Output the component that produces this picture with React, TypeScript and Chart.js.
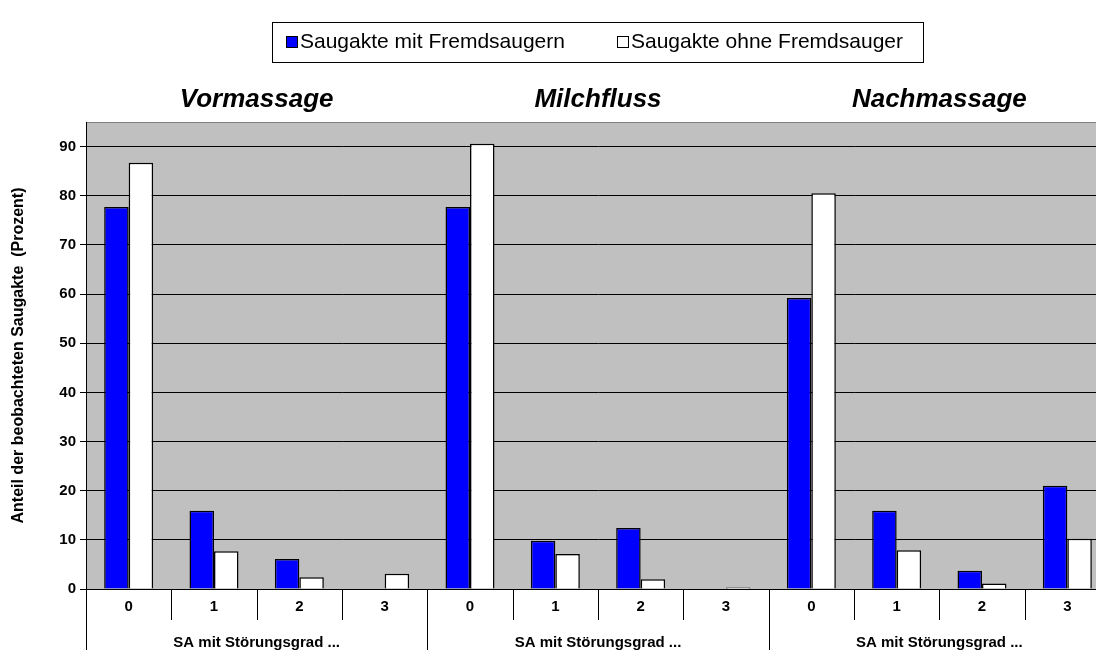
import React, { useEffect, useRef } from "react";
import { Chart, registerables } from "chart.js";

Chart.register(...registerables);

// ---- data ----
const groupTitles = ["Vormassage", "Milchfluss", "Nachmassage"];
const grades = ["0", "1", "2", "3"];
const groupAxisLabel = "SA mit Störungsgrad ...";
const seriesNames = ["Saugakte mit Fremdsaugern", "Saugakte ohne Fremdsauger"];
const mitFremdsaugern = [77.7, 15.9, 6.1, 0, 77.7, 9.8, 12.4, 0, 59.2, 15.9, 3.7, 21.0];
const ohneFremdsauger = [86.7, 7.7, 2.4, 3.1, 90.6, 7.1, 2.0, 0.3, 80.5, 7.9, 1.1, 10.2];
const yTitle = "Anteil der beobachteten Saugakte  (Prozent)";
const yMax = 95;
const yStep = 10;

const FONT = "Arial, 'Liberation Sans', sans-serif";
const BLUE = "#0000FF";
const WHITE = "#FFFFFF";

const labels = groupTitles.flatMap(() => grades);

const decor = {
  id: "decor",
  beforeDraw(chart: any) {
    const { ctx, chartArea: a } = chart;
    ctx.save();
    ctx.fillStyle = "#FFFFFF";
    ctx.fillRect(0, 0, chart.width, chart.height);
    ctx.fillStyle = "#C0C0C0";
    ctx.fillRect(a.left, a.top, a.right - a.left, a.bottom - a.top);
    ctx.restore();
  },
  afterDraw(chart: any) {
    const { ctx, chartArea: a } = chart;
    const xs = chart.scales.x;
    ctx.save();
    // top border of plot
    ctx.strokeStyle = "#808080";
    ctx.lineWidth = 1;
    ctx.beginPath();
    ctx.moveTo(a.left, a.top + 0.5);
    ctx.lineTo(a.right, a.top + 0.5);
    ctx.stroke();
    // left axis line extended down
    ctx.strokeStyle = "#000";
    ctx.beginPath();
    ctx.moveTo(Math.round(a.left) + 0.5, a.top);
    ctx.lineTo(Math.round(a.left) + 0.5, chart.height);
    ctx.stroke();

    // separators below x axis
    const n = labels.length;
    for (let i = 1; i <= n; i++) {
      const bx =
        i < n
          ? (xs.getPixelForValue(i - 1) + xs.getPixelForValue(i)) / 2
          : a.right;
      const x = Math.round(bx) + 0.5;
      ctx.strokeStyle = "#000";
      ctx.beginPath();
      ctx.moveTo(x, a.bottom);
      ctx.lineTo(x, i % grades.length === 0 ? chart.height : a.bottom + 31);
      ctx.stroke();
    }

    // tick labels
    ctx.fillStyle = "#000";
    ctx.textAlign = "center";
    ctx.textBaseline = "middle";
    ctx.font = `bold 15px ${FONT}`;
    for (let i = 0; i < n; i++) {
      ctx.fillText(labels[i], xs.getPixelForValue(i), a.bottom + 18);
    }
    // group axis labels & titles
    groupTitles.forEach((t, g) => {
      const c =
        (xs.getPixelForValue(g * grades.length) +
          xs.getPixelForValue(g * grades.length + grades.length - 1)) /
        2;
      ctx.font = `bold 15px ${FONT}`;
      ctx.fillText(groupAxisLabel, c, a.bottom + 54);
      ctx.font = `italic bold 26px ${FONT}`;
      ctx.fillText(t, c, 100);
    });

    // legend
    ctx.strokeStyle = "#000";
    ctx.lineWidth = 1;
    ctx.strokeRect(272.5, 22.5, 651, 40);
    ctx.font = `21px ${FONT}`;
    ctx.textAlign = "left";
    ctx.fillStyle = BLUE;
    ctx.fillRect(286, 36, 11, 11);
    ctx.strokeRect(286.5, 36.5, 11, 11);
    ctx.fillStyle = "#000";
    ctx.fillText(seriesNames[0], 300, 42);
    const w2 = ctx.measureText(seriesNames[1]).width;
    const t2 = 903 - w2;
    ctx.fillStyle = WHITE;
    ctx.fillRect(t2 - 14, 36, 11, 11);
    ctx.strokeRect(t2 - 13.5, 36.5, 11, 11);
    ctx.fillStyle = "#000";
    ctx.fillText(seriesNames[1], t2, 42);
    ctx.restore();
  },
};

export default function App() {
  const ref = useRef<HTMLCanvasElement>(null);
  useEffect(() => {
    if (!ref.current) return;
    const chart = new Chart(ref.current, {
      type: "bar",
      data: {
        labels,
        datasets: [
          {
            label: seriesNames[0],
            data: mitFremdsaugern,
            backgroundColor: BLUE,
            borderColor: "#000",
            borderWidth: 1.5,
          },
          {
            label: seriesNames[1],
            data: ohneFremdsauger,
            backgroundColor: WHITE,
            borderColor: "#000",
            borderWidth: 1.5,
          },
        ],
      },
      options: {
        animation: false,
        responsive: false,
        devicePixelRatio: 1,
        layout: { padding: { top: 122, right: 20, left: 0, bottom: 0 } },
        datasets: { bar: { categoryPercentage: 0.574, barPercentage: 1 } },
        plugins: { legend: { display: false }, tooltip: { enabled: false } },
        scales: {
          x: {
            type: "category",
            ticks: { display: false },
            grid: { display: false },
            border: { display: true, color: "#000", width: 1 },
            afterFit: (s: any) => {
              s.height = 61;
            },
          },
          y: {
            min: 0,
            max: yMax,
            afterBuildTicks: (s: any) => {
              s.ticks = s.ticks.filter((t: any) => t.value <= 90);
            },
            ticks: {
              stepSize: yStep,
              color: "#000",
              padding: 4,
              font: { family: FONT, weight: "bold", size: 15 },
            },
            grid: { color: "#000", lineWidth: 1, tickLength: 6, drawTicks: true },
            border: { display: true, color: "#000", width: 1 },
            title: {
              display: true,
              text: yTitle,
              color: "#000",
              font: { family: FONT, weight: "bold", size: 16 },
              padding: { top: 9, bottom: 0 },
            },
            afterFit: (s: any) => {
              s.width = 86;
            },
          },
        },
      },
      plugins: [decor],
    });
    return () => chart.destroy();
  }, []);
  return (
    <div
      style={{
        position: "fixed",
        left: 0,
        top: 0,
        width: 1096,
        height: 650,
        overflow: "hidden",
        background: "#fff",
      }}
    >
      <canvas ref={ref} width={1130} height={650} />
    </div>
  );
}
